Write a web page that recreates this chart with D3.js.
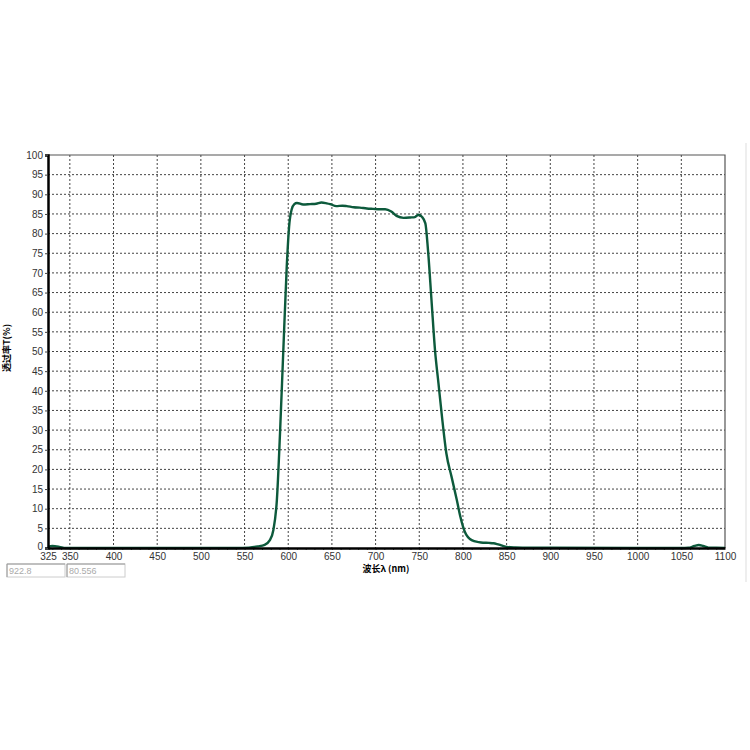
<!DOCTYPE html>
<meta charset="utf-8">
<style>
body { margin: 0; background: #fff; }
.grid line { stroke: #444; stroke-width: 1px; stroke-dasharray: 2,2; }
.tick text { font-family: "Liberation Sans", Arial, sans-serif; font-size: 10px; fill: #333; }
.line { fill: none; stroke: #0d5a3c; stroke-width: 2.4px; }
</style>
<body>
<script src="https://d3js.org/d3.v7.min.js"></script>
<script>
// wavelength (nm)
var wavelength = [325, 330, 338, 345, 400, 500, 540, 555, 565, 573, 579, 583, 587, 590.6, 594.4, 598.3,
  601, 604, 607, 610, 617, 625, 632, 638, 644, 648, 655, 662, 667, 675, 682, 690, 697, 705, 711, 718,
  724, 732, 740, 745, 749, 753, 757, 760, 764, 768, 772, 776, 781, 787, 793, 797, 802, 810, 818, 823,
  830, 835, 839, 845, 850, 860, 870, 900, 1000, 1050, 1058, 1065, 1070, 1075, 1081, 1090, 1100];
// transmittance T (%)
var transmit = [0.3, 0.5, 0.3, 0, 0, 0, 0, 0.1, 0.4, 0.8, 2.0, 4.6, 12.2, 29.2, 50.4, 71.6,
  81.8, 86.2, 87.5, 87.8, 87.4, 87.5, 87.6, 87.9, 87.7, 87.5, 87.0, 87.1, 87.0, 86.7, 86.6, 86.4, 86.3, 86.2, 86.2, 85.6,
  84.5, 84.0, 84.1, 84.2, 84.8, 84.3, 82.6, 75.8, 63.1, 50.4, 41.9, 33.4, 24.1, 18.1, 12.2, 8.0, 4.2, 2.0, 1.5, 1.35,
  1.3, 1.2, 1.0, 0.6, 0.3, 0.15, 0.1, 0.05, 0, 0, 0.05, 0.5, 0.75, 0.5, 0.1, 0.05, 0];

var xTicks = [325, 350, 400, 450, 500, 550, 600, 650, 700, 750, 800, 850, 900, 950, 1000, 1050, 1100];
var xGrid = [350, 400, 450, 500, 550, 600, 650, 700, 750, 800, 850, 900, 950, 1000, 1050];
var xMinor = d3.range(330, 1100, 10);
var yTicks = d3.range(0, 101, 5);
var yGrid = d3.range(5, 100, 5);
var readout = ["922.8", "80.556"];

var data = wavelength.map(function(w, i) { return {w: w, t: transmit[i]}; });

var svg = d3.select("body").append("svg")
    .attr("width", 750)
    .attr("height", 750);

var x = d3.scaleLinear().domain([325, 1100]).range([48, 725]);
var y = d3.scaleLinear().domain([0, 100]).range([548, 155]);

// faint panel line on the right
svg.append("line")
    .attr("x1", 746).attr("x2", 746).attr("y1", 143).attr("y2", 582)
    .style("stroke", "#ddd");

// grid
svg.append("g").attr("class", "grid")
  .selectAll("line").data(xGrid).enter().append("line")
    .attr("x1", function(d) { return x(d); })
    .attr("x2", function(d) { return x(d); })
    .attr("y1", y(100)).attr("y2", y(0));
svg.append("g").attr("class", "grid")
  .selectAll("line").data(yGrid).enter().append("line")
    .attr("x1", x(325)).attr("x2", x(1100))
    .attr("y1", function(d) { return y(d); })
    .attr("y2", function(d) { return y(d); });

// top and right frame
svg.append("path")
    .attr("d", "M" + x(325) + "," + y(100) + "H" + x(1100) + "V" + y(0))
    .style("fill", "none").style("stroke", "#555").style("stroke-width", 1.2);

// the curve
svg.append("path")
    .datum(data)
    .attr("class", "line")
    .attr("d", d3.line()
      .x(function(d) { return x(d.w); })
      .y(function(d) { return y(d.t); })
      .curve(d3.curveMonotoneX));

// y axis
var yAxis = svg.append("g")
    .attr("transform", "translate(" + x(325) + ",0)")
    .call(d3.axisLeft(y).tickValues(yTicks).tickSize(3).tickPadding(2));
yAxis.select(".domain").style("stroke", "#000").style("stroke-width", 2.5);
yAxis.selectAll(".tick line").style("stroke", "#444");
yAxis.selectAll(".tick text").filter(function(d) { return d === 0; }).attr("dy", "0.1em");

// x axis minor ticks
var xMin = svg.append("g")
    .attr("transform", "translate(0," + y(0) + ")")
    .call(d3.axisBottom(x).tickValues(xMinor).tickSize(2).tickFormat(""));
xMin.select(".domain").remove();
xMin.selectAll(".tick line").style("stroke", "#555");

var xAxis = svg.append("g")
    .attr("transform", "translate(0," + y(0) + ")")
    .call(d3.axisBottom(x).tickValues(xTicks).tickSize(0).tickPadding(5).tickFormat(d3.format("d")));
xAxis.select(".domain").style("stroke", "#000").style("stroke-width", 2.5);

// axis titles
svg.append("text")
    .attr("x", 386).attr("y", 572)
    .attr("text-anchor", "middle")
    .style("font-family", "'Noto Sans CJK SC', sans-serif")
    .style("font-size", "9px").style("font-weight", "bold")
    .text("波长λ (nm)");

svg.append("text")
    .attr("transform", "translate(10,348) rotate(-90)")
    .attr("text-anchor", "middle")
    .style("font-family", "'Noto Sans CJK SC', sans-serif")
    .style("font-size", "9px").style("font-weight", "bold")
    .text("透过率T(%)");

// readout boxes under the axis
var boxes = svg.selectAll(".box").data(readout).enter().append("g")
    .attr("transform", function(d, i) { return "translate(" + (7 + i * 60) + ",564)"; });
boxes.append("rect")
    .attr("width", 58).attr("height", 13)
    .style("fill", "#fff").style("stroke", "#ccc");
boxes.append("path")
    .attr("d", "M0,13V0H58")
    .style("fill", "none").style("stroke", "#999");
boxes.append("text")
    .attr("x", 2).attr("y", 10)
    .style("font-family", "'Liberation Sans', Arial, sans-serif")
    .style("font-size", "9px").style("fill", "#aaa")
    .text(function(d) { return d; });
</script>
</body>
